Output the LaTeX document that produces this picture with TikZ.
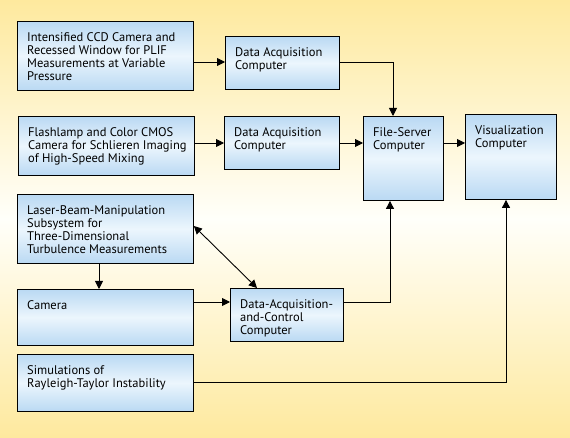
\documentclass[tikz,border=0pt]{standalone}
\usepackage{fontspec}
\setmainfont{PT Sans}
\usetikzlibrary{arrows.meta}
\definecolor{bgY}{RGB}{254,233,158}
\definecolor{bgW}{RGB}{255,255,250}
\definecolor{bxB}{RGB}{186,217,243}
\definecolor{bxW}{RGB}{236,246,253}
\tikzset{
  box/.style={draw=black, line width=0.9pt, top color=bxB, bottom color=bxB, middle color=bxW, anchor=north west, inner sep=0pt},
  txt/.style={anchor=north west, inner sep=0pt, xshift=10pt, yshift=-11pt, align=left, font=\fontsize{12.5}{13}\selectfont},
  conn/.style={line width=0.9pt, -{Triangle[length=8pt,width=8pt]}},
  conn2/.style={line width=0.9pt, {Triangle[length=8pt,width=8pt]}-{Triangle[length=8pt,width=8pt]}}
}
\newcommand\mybox[6]{\node[box, minimum width=#4pt, minimum height=#5pt, label={[txt]north west:#6}] (#1) at (#2,#3) {};}
\begin{document}
\begin{tikzpicture}[x=1pt,y=-1pt]
\useasboundingbox (0,0) rectangle (570,438);
\shade[top color=bgY, bottom color=bgY, middle color=bgW] (0,0) rectangle (570,438);
\mybox{b1}{17}{21}{176}{69}{Intensified CCD Camera and\\Recessed Window for PLIF\\Measurements at Variable\\Pressure}
\mybox{d1}{225}{36}{114}{53}{Data Acquisition\\Computer}
\mybox{b2}{18}{116}{176}{59}{Flashlamp and Color CMOS\\Camera for Schlieren Imaging\\of High-Speed Mixing}
\mybox{d2}{224}{116}{115}{53}{Data Acquisition\\Computer}
\mybox{fs}{363}{116}{80}{84}{File-Server\\Computer}
\mybox{vis}{465}{114}{91}{85}{Visualization\\Computer}
\mybox{las}{17}{194}{176}{69}{Laser-Beam-Manipulation\\Subsystem for\\Three-Dimensional\\Turbulence Measurements}
\mybox{cam}{17}{289}{176}{56}{Camera}
\mybox{dac}{230}{288}{113}{53}{Data-Acquisition-\\and-Control\\Computer}
\mybox{sim}{17}{354}{176}{57}{Simulations of\\Rayleigh-Taylor Instability}
\coordinate (c1) at (393,62);
\coordinate (c2) at (390,302);
\coordinate (c3) at (506,382);
\draw[conn] (b1.east |- 0,62) -- (d1.west |- 0,62);
\draw[conn] (b2.east |- 0,143) -- (d2.west |- 0,143);
\draw[conn] (d1.east |- c1) -- (c1) -- (fs.north -| c1);
\draw[conn] (d2.east |- 0,143) -- (fs.west |- 0,143);
\draw[conn] (fs.east |- 0,143) -- (vis.west |- 0,143);
\draw[conn] (las.south -| 99,0) -- (cam.north -| 99,0);
\draw[conn2] (las.east |- 0,226) -- (dac.north -| 257,0);
\draw[conn] (cam.east |- 0,302) -- (dac.west |- 0,302);
\draw[conn] (dac.east |- c2) -- (c2) -- (fs.south -| c2);
\draw[conn] (sim.east |- c3) -- (c3) -- (vis.south -| c3);
\end{tikzpicture}
\end{document}
